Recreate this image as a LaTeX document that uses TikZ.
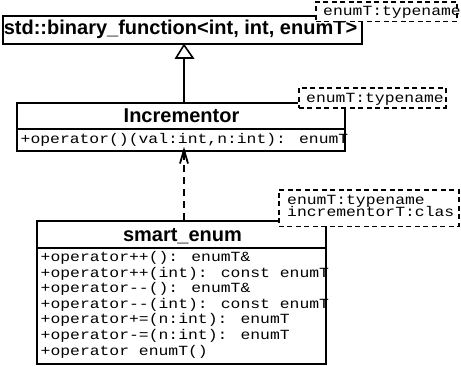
\documentclass[tikz,border=0pt]{standalone}
\usepackage{fontspec}
\setmainfont{Liberation Sans}
\newfontfamily\clsfont{Liberation Sans}
\newfontfamily\opfont[FakeStretch=1.17]{Liberation Mono}
\usetikzlibrary{arrows.meta}
\begin{document}
\begin{tikzpicture}[x=1pt,y=-1pt,
  classbox/.style={draw=black, line width=2pt, fill=white, inner sep=0pt, anchor=north west},
  sepline/.style={line width=1.6pt},
  tmplbox/.style={draw=black, line width=1.8pt, dash pattern=on 5pt off 3.5pt, inner sep=0pt, anchor=north west},
  clsname/.style={font=\clsfont\bfseries\fontsize{20}{20}\selectfont, inner sep=0pt, anchor=base},
  optext/.style={font=\opfont\fontsize{14}{14}\selectfont, inner sep=0pt, anchor=base west},
  conn/.style={line width=2pt},
]
\useasboundingbox (0,0) rectangle (461,365);
\fill[white] (0,0) rectangle (461,365);

% class boxes
\node[classbox, minimum width=359.5pt, minimum height=28pt] (bf) at (1.5,15) {};
\node[classbox, minimum width=328pt, minimum height=48.3pt] (inc) at (16,101.7) {};
\node[classbox, minimum width=289pt, minimum height=143pt] (se) at (36,220) {};

% compartment separators
\draw[sepline] (16,129) -- (344,129);
\draw[sepline] (36,248) -- (325,248);

% class names
\node[clsname] (bfname) at (180.5,34.3) {std::binary\_function<int, int, enumT>};
\node[clsname] (incname) at (181.5,122.7) {Incrementor};
\node[clsname] (sename) at (182.5,241) {smart\_enum};

% operations
\node[optext] (incop) at (20.5,143.5) {+operator()(val:int,n:int): enumT};
\node[optext] (se1) at (40.5,261.7) {+operator++(): enumT\&};
\node[optext] (se2) at (40.5,277.25) {+operator++(int): const enumT};
\node[optext] (se3) at (40.5,292.8) {+operator-{}-(): enumT\&};
\node[optext] (se4) at (40.5,308.35) {+operator-{}-(int): const enumT};
\node[optext] (se5) at (40.5,323.9) {+operator+=(n:int): enumT};
\node[optext] (se6) at (40.5,339.45) {+operator-=(n:int): enumT};
\node[optext] (se7) at (40.5,355) {+operator enumT()};

% connectors
\coordinate (ax) at (184,0);
% generalization
\coordinate (tri) at (184,58);
\draw[conn] (inc.north -| ax) -- (tri);
\draw[line width=1.6pt, fill=white, line join=miter] (bf.south -| ax) -- (176,58) -- (193,58) -- cycle;
% dependency
\draw[conn, dash pattern=on 7pt off 5pt] (se.north -| ax) -- ([yshift=3pt]inc.south -| ax);
\draw[line width=1.8pt] (180,163.5) -- ([yshift=2pt]inc.south -| ax) -- (188,163.5);

% template parameter boxes
\fill[white] (315,1) rectangle (456,20.5);
\node[optext] (t1) at (323,15.5) {enumT:typename};
\node[tmplbox, minimum width=141pt, minimum height=19.5pt] (t1box) at (315,1) {};

\fill[white] (298,87) rectangle (445,107);
\node[optext] (t2) at (306,102.7) {enumT:typename};
\node[tmplbox, minimum width=147pt, minimum height=20pt] (t2box) at (298,87) {};

\fill[white] (278,189) rectangle (458,225.5);
\node[optext] (t3a) at (287,204) {enumT:typename};
\node[optext] (t3b) at (287,216.5) {incrementorT:clas};
\node[tmplbox, minimum width=180pt, minimum height=36.5pt] (t3box) at (278,189) {};
\end{tikzpicture}
\end{document}
